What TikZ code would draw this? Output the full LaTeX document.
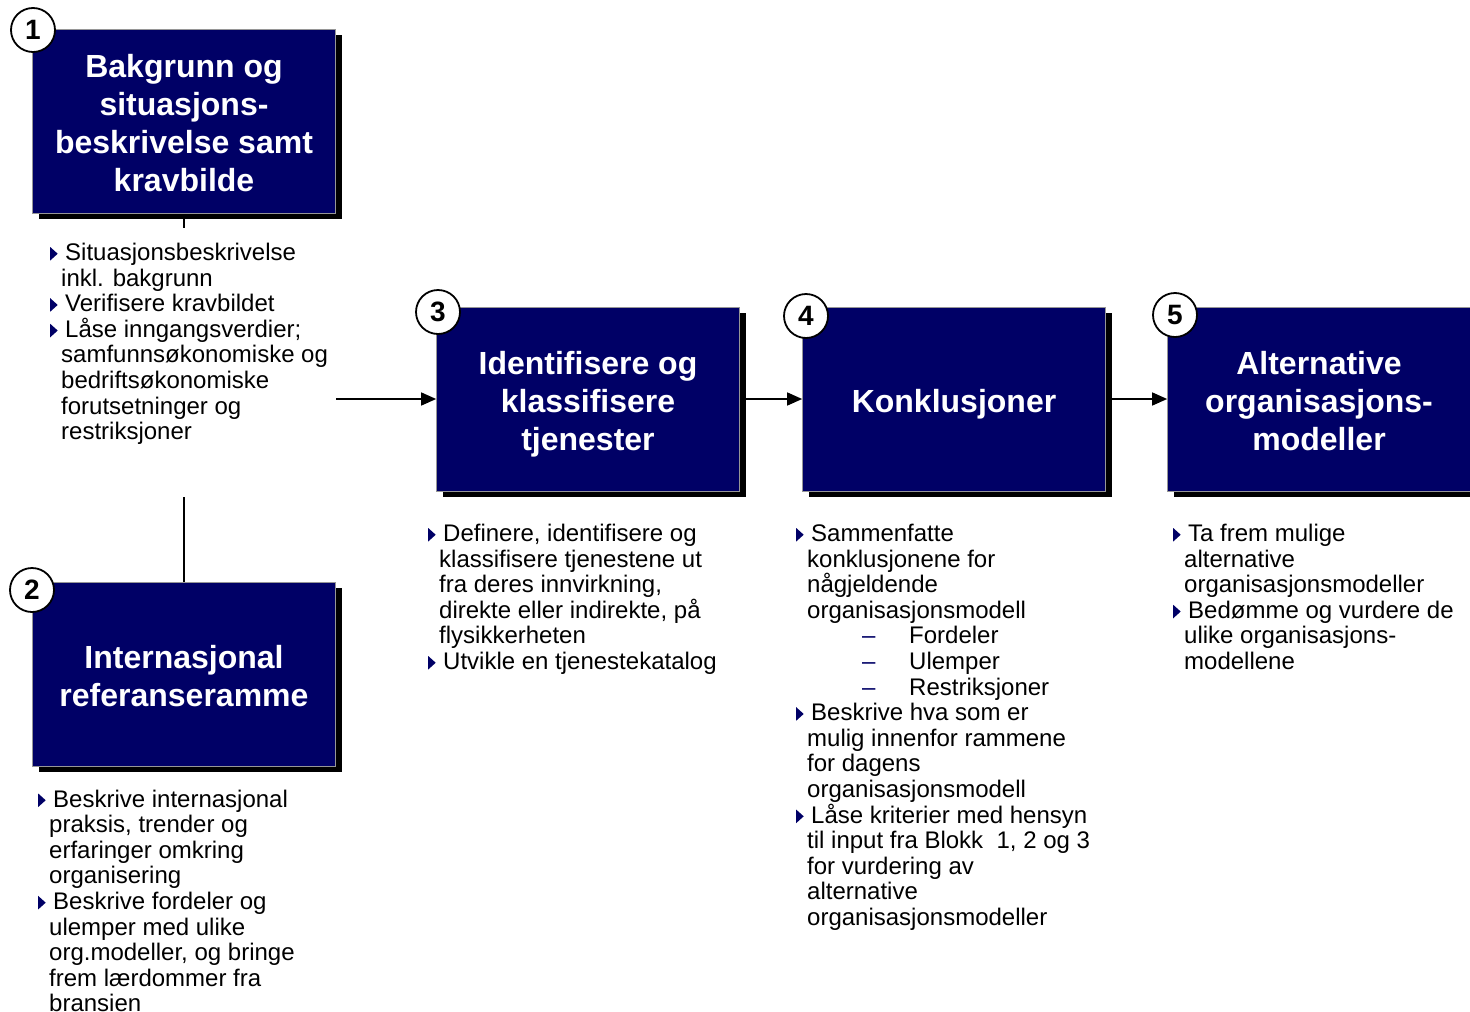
\documentclass[tikz,border=0pt]{standalone}
\usepackage{fontspec}
\setmainfont{Liberation Sans}
\usetikzlibrary{arrows.meta,shadows,backgrounds}
\definecolor{navy}{RGB}{0,0,102}
\definecolor{boxline}{RGB}{150,150,150}

% bullet marker and list helpers
\newcommand{\bul}{\tikz[baseline=0pt]\fill[navy] (0pt,0pt)--(0pt,13.5pt)--(7.5pt,6.75pt)--cycle;}
\newcommand{\itm}{\leavevmode\llap{\bul\hspace{3.5pt}}\hspace*{4pt}}
\newcommand{\subitm}[1]{\hspace*{55pt}\makebox[47pt][l]{\textcolor{navy}{–}}#1}
% fixed top and bottom extents so every title is centred the same way
\newcommand{\tstrut}{\rule{0pt}{34.4pt}}
\newcommand{\dstrut}{\rule[-7pt]{0pt}{7pt}}

\begin{document}
\begin{tikzpicture}[x=1pt,y=-1pt,
  box/.style={rectangle, fill=navy, draw=boxline, line width=0.7pt,
    minimum width=303pt, minimum height=184pt, inner sep=4pt,
    align=center, text=white, font=\bfseries\fontsize{32}{38}\selectfont,
    drop shadow={shadow xshift=6pt, shadow yshift=-6pt, fill=black, opacity=1}},
  num/.style={circle, fill=white, draw=black, line width=1.8pt,
    minimum size=44pt, inner sep=0pt, font=\bfseries\fontsize{28}{28}\selectfont},
  txt/.style={anchor=base west, inner sep=0pt,
    font=\fontsize{24}{25.6}\selectfont},
  conn/.style={draw=black, line width=1.5pt},
  arr/.style={conn, -{Triangle[length=15pt,width=13pt]}}]

\useasboundingbox (0,0) rectangle (1470,1012);

% process blocks
\node[box] (b1) at (184,121) {\tstrut Bakgrunn og\\situasjons-\\beskrivelse samt\\kravbilde\dstrut};
\node[box] (b2) at (184,674) {\tstrut Internasjonal\\referanseramme\dstrut};
\node[box] (b3) at (588,399) {\tstrut Identifisere og\\klassifisere\\tjenester\dstrut};
\node[box] (b4) at (954,399) {\tstrut Konklusjoner\dstrut};
\node[box] (b5) at (1319,399) {\tstrut Alternative\\organisasjons-\\modeller\dstrut};

% step numbers
\node[num] (c1) at (33,30) {1};
\node[num] (c2) at (32,590) {2};
\node[num] (c3) at (438,312) {3};
\node[num] (c4) at (806,316) {4};
\node[num] (c5) at (1175,315) {5};

% descriptions
\node[txt] (t1) at (61,260.5) {\parbox[t]{300pt}{\raggedright
\itm Situasjonsbeskrivelse\\
inkl. bakgrunn\\
\itm Verifisere kravbildet\\
\itm Låse inngangsverdier;\\
samfunnsøkonomiske og\\
bedriftsøkonomiske\\
forutsetninger og\\
restriksjoner}};

\node[txt] (t2) at (49,807) {\parbox[t]{300pt}{\raggedright
\itm Beskrive internasjonal\\
praksis, trender og\\
erfaringer omkring\\
organisering\\
\itm Beskrive fordeler og\\
ulemper med ulike\\
org.modeller, og bringe\\
frem lærdommer fra\\
bransien}};

\node[txt] (t3) at (439,541.5) {\parbox[t]{330pt}{\raggedright
\itm Definere, identifisere og\\
klassifisere tjenestene ut\\
fra deres innvirkning,\\
direkte eller indirekte, på\\
flysikkerheten\\
\itm Utvikle en tjenestekatalog}};

\node[txt] (t4) at (807,541.5) {\parbox[t]{330pt}{\raggedright
\itm Sammenfatte\\
konklusjonene for\\
någjeldende\\
organisasjonsmodell\\
\subitm{Fordeler}\\
\subitm{Ulemper}\\
\subitm{Restriksjoner}\\
\itm Beskrive hva som er\\
mulig innenfor rammene\\
for dagens\\
organisasjonsmodell\\
\itm Låse kriterier med hensyn\\
til input fra Blokk\ \ 1, 2 og 3\\
for vurdering av\\
alternative\\
organisasjonsmodeller}};

\node[txt] (t5) at (1184,541.5) {\parbox[t]{300pt}{\raggedright
\itm Ta frem mulige\\
alternative\\
organisasjonsmodeller\\
\itm Bedømme og vurdere de\\
ulike organisasjons-\\
modellene}};

% connectors
\coordinate (l1) at (184,228);
\coordinate (l2) at (184,497);
\coordinate (a0) at (336,399);
\begin{scope}[on background layer]
  \draw[conn] (b1.south) -- (l1);
  \draw[conn] (l2) -- (b2.north);
  \draw[arr] (a0) -- (b3.west);
  \draw[arr] (b3.east) -- (b4.west);
  \draw[arr] (b4.east) -- (b5.west);
\end{scope}
\end{tikzpicture}
\end{document}
